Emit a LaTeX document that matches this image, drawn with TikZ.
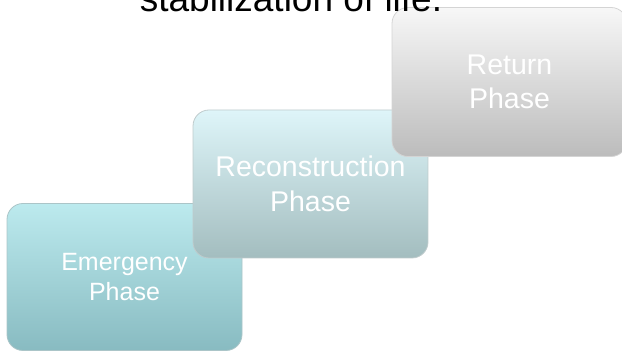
\documentclass[tikz,border=0pt]{standalone}
\usepackage{fontspec}
\setmainfont{Liberation Sans}
\usepackage{tikz}
\usetikzlibrary{shapes.geometric}
\definecolor{EmTop}{RGB}{188,234,238}
\definecolor{EmBot}{RGB}{136,187,193}
\definecolor{RecTop}{RGB}{222,245,249}
\definecolor{RecBot}{RGB}{163,189,191}
\definecolor{RetTop}{RGB}{247,247,247}
\definecolor{RetBot}{RGB}{188,188,188}

\begin{document}
\begin{tikzpicture}[x=1pt, y=-1pt,
    phasebox/.style={rectangle, rounded corners=16pt, minimum width=235pt, inner sep=0pt,
        line width=0.8pt, text=white, align=center, font=\fontsize{28.5}{34.5}\selectfont}]
    % Fix the frame
    \useasboundingbox (0,0) rectangle (622,352);

    % Draw the three phases, each one over the one before
    \node[phasebox, minimum height=147pt, top color=EmTop, bottom color=EmBot, draw=EmBot!85!black!60,
        font=\fontsize{25}{30}\selectfont] (Emergency) at (124.5,277) {Emergency\\Phase};
    \node[phasebox, minimum height=148pt, top color=RecTop, bottom color=RecBot, draw=RecBot!85!black!55] (Reconstruction) at (310.5,184) {Reconstruction\\Phase};
    \node[phasebox, minimum height=149pt, top color=RetTop, bottom color=RetBot, draw=RetBot!85!black!45] (Return) at (509.5,82) {Return\\Phase};

    % Title, cut by the top edge
    \node[anchor=base, inner sep=0pt, font=\fontsize{37}{44}\selectfont] (Title) at (291,12) {stabilization of life.};
\end{tikzpicture}
\end{document}
